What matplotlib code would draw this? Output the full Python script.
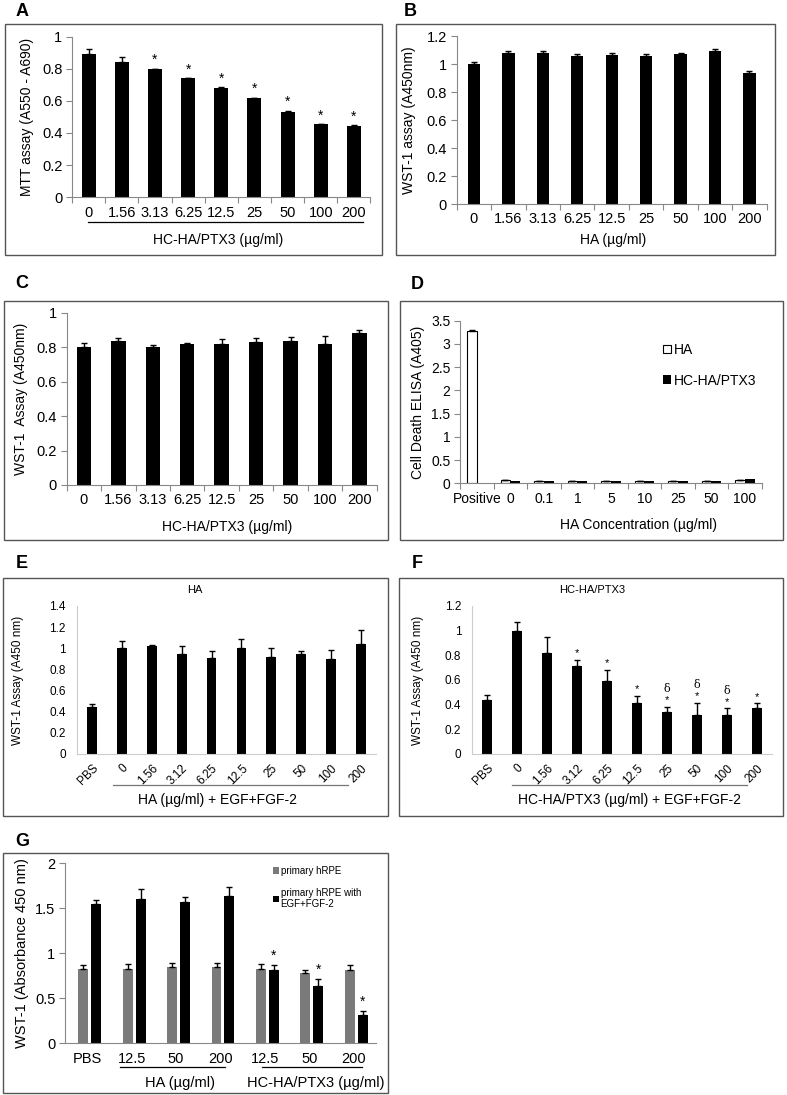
import numpy as np
import matplotlib
matplotlib.use("Agg")
import matplotlib.pyplot as plt
from matplotlib.patches import Rectangle
from matplotlib.lines import Line2D

plt.rcParams['font.family'] = ['Liberation Sans', 'DejaVu Sans']

# ---- data ----
conc_a = ["0", "1.56", "3.13", "6.25", "12.5", "25", "50", "100", "200"]
mtt_a = [0.89, 0.84, 0.80, 0.74, 0.68, 0.62, 0.53, 0.455, 0.445]
mtt_a_err = [0.03, 0.03, 0.0, 0.0, 0.005, 0.0, 0.008, 0.0, 0.003]
star_a = [2, 3, 4, 5, 6, 7, 8]

wst_b = [1.0, 1.08, 1.08, 1.055, 1.065, 1.06, 1.07, 1.095, 0.935]
wst_b_err = [0.012, 0.015, 0.012, 0.015, 0.015, 0.012, 0.012, 0.015, 0.015]

wst_c = [0.80, 0.835, 0.80, 0.82, 0.82, 0.83, 0.835, 0.82, 0.88]
wst_c_err = [0.025, 0.02, 0.015, 0.005, 0.025, 0.022, 0.022, 0.045, 0.022]

conc_d = ["Positive", "0", "0.1", "1", "5", "10", "25", "50", "100"]
elisa_ha = [3.28, 0.07, 0.05, 0.06, 0.06, 0.06, 0.06, 0.06, 0.07]
elisa_ha_err = [0.02, 0.0, 0.0, 0.0, 0.0, 0.0, 0.0, 0.0, 0.0]
elisa_hc = [0.0, 0.05, 0.045, 0.045, 0.04, 0.045, 0.05, 0.06, 0.1]

conc_ef = ["PBS", "0", "1.56", "3.12", "6.25", "12.5", "25", "50", "100", "200"]
wst_e = [0.44, 1.0, 1.02, 0.95, 0.91, 1.0, 0.92, 0.95, 0.895, 1.04]
wst_e_err = [0.035, 0.07, 0.01, 0.075, 0.06, 0.09, 0.085, 0.02, 0.09, 0.135]
wst_f = [0.44, 1.0, 0.82, 0.715, 0.59, 0.415, 0.34, 0.315, 0.32, 0.37]
wst_f_err = [0.04, 0.07, 0.13, 0.05, 0.09, 0.055, 0.045, 0.1, 0.05, 0.04]
star_f = [3, 4, 5, 6, 7, 8, 9]
delta_f = [6, 7, 8]

conc_g = ["PBS", "12.5", "50", "200", "12.5", "50", "200"]
rpe = [0.83, 0.83, 0.845, 0.845, 0.83, 0.785, 0.81]
rpe_err = [0.045, 0.055, 0.05, 0.05, 0.055, 0.025, 0.055]
rpe_gf = [1.545, 1.605, 1.575, 1.635, 0.81, 0.635, 0.315]
rpe_gf_err = [0.05, 0.105, 0.055, 0.1, 0.055, 0.075, 0.045]
star_g = [4, 5, 6]

# ---- figure helpers (pixel coordinates of the 787x1095 canvas) ----
W, H = 787, 1095
fig = plt.figure(figsize=(W / 100, H / 100), dpi=100)
AXC = "#888888"


def fx(x):
    return x / W


def fy(y):
    return 1 - y / H


def box(x0, y0, x1, y1):
    fig.add_artist(Rectangle((fx(x0), fy(y1)), (x1 - x0) / W, (y1 - y0) / H,
                             fill=False, ec="#555555", lw=1.0, transform=fig.transFigure))


def hline(x0, x1, y, color="black"):
    fig.add_artist(Line2D([fx(x0), fx(x1)], [fy(y), fy(y)], color=color, lw=0.9,
                          transform=fig.transFigure))


def ftext(x, y, s, **kw):
    fig.text(fx(x), fy(y), s, ha="center", va="center", **kw)


def make_ax(x0, x1, ytop, yzero):
    ax = fig.add_axes([fx(x0), fy(yzero), (x1 - x0) / W, (yzero - ytop) / H])
    ax._px = (x0, x1)
    return ax


def ylab(ax, text, xcenter, **kw):
    # place the y label so that its centre sits at pixel column xcenter
    x0, x1 = ax._px
    ax.set_ylabel(text, **kw)
    ax.yaxis.label.set_va("center")
    ax.yaxis.set_label_coords((xcenter - x0) / (x1 - x0), 0.5)


def style(ax, labels, ymax, step, fs=10, left=-0.5, ytickfs=None):
    n = len(labels)
    ax.set_xlim(left, n - 0.5)
    ax.set_ylim(0, ymax)
    ax.patch.set_alpha(0)
    for s in ["top", "right"]:
        ax.spines[s].set_visible(False)
    for s in ["left", "bottom"]:
        ax.spines[s].set_color(AXC)
        ax.spines[s].set_linewidth(0.8)
    ticks = np.round(np.arange(0, ymax + step / 2, step), 3)
    ax.set_yticks(ticks)
    ax.set_yticklabels([f"{t:g}" for t in ticks], fontsize=ytickfs or fs)
    ax.set_xticks(range(n))
    ax.set_xticklabels(labels, fontsize=fs)
    ax.set_xticks(np.arange(-0.5, n), minor=True)
    ax.tick_params(axis="x", which="major", length=0, pad=6)
    ax.tick_params(axis="x", which="minor", length=4, color=AXC, width=0.8)
    ax.tick_params(axis="y", length=4, color=AXC, width=0.8, pad=3)


def errs(ax, x, vals, err, capsize=2.5):
    ax.errorbar(x, vals, yerr=[np.zeros(len(err)), err], fmt="none",
                ecolor="black", elinewidth=1, capsize=capsize, capthick=1)


# ---------------- A ----------------
ax = make_ax(72, 370.5, 36.5, 197.3)
x = np.arange(len(conc_a))
ax.bar(x, mtt_a, width=0.42, color="black")
errs(ax, x, mtt_a, mtt_a_err)
style(ax, conc_a, 1.0, 0.2, fs=10.5)
for i in star_a:
    ax.text(i, mtt_a[i] + mtt_a_err[i] + 0.03, "*", ha="center", va="baseline", fontsize=10)
ylab(ax, "MTT assay (A550 - A690)", 27, fontsize=10)
box(5, 24, 382, 255)
hline(88, 363, 222)
ftext(218, 240, "HC-HA/PTX3 (µg/ml)", fontsize=10)
ftext(22, 11, "A", fontsize=13, fontweight="bold")

# ---------------- B ----------------
ax = make_ax(456.7, 766.7, 36, 204)
x = np.arange(len(conc_a))
ax.bar(x, wst_b, width=0.36, color="black")
errs(ax, x, wst_b, wst_b_err)
style(ax, conc_a, 1.2, 0.2, fs=10.5)
ylab(ax, "WST-1 assay (A450nm)", 409, fontsize=10)
box(396, 24, 775, 255)
ftext(613, 240, "HA (µg/ml)", fontsize=10)
ftext(410, 11, "B", fontsize=13, fontweight="bold")

# ---------------- C ----------------
ax = make_ax(66.7, 376.7, 312.7, 485)
x = np.arange(len(conc_a))
ax.bar(x, wst_c, width=0.42, color="black")
errs(ax, x, wst_c, wst_c_err)
style(ax, conc_a, 1.0, 0.2, fs=10.5)
ylab(ax, "WST-1  Assay (A450nm)", 21, fontsize=10)
box(4, 301, 388, 540)
ftext(227, 527, "HC-HA/PTX3 (µg/ml)", fontsize=10)
ftext(22, 283, "C", fontsize=13, fontweight="bold")

# ---------------- D ----------------
ax = make_ax(460, 761.7, 320.7, 483.3)
x = np.arange(len(conc_d))
bw = 0.29
b1 = ax.bar(x - bw / 2, elisa_ha, width=bw, color="white", edgecolor="black", lw=0.8, label="HA")
b2 = ax.bar(x + bw / 2, elisa_hc, width=bw, color="black", label="HC-HA/PTX3")
errs(ax, x - bw / 2, elisa_ha, elisa_ha_err, capsize=2)
style(ax, conc_d, 3.5, 0.5, fs=10)
ylab(ax, "Cell Death ELISA (A405)", 418, fontsize=10)
ax.legend(handles=[b1, b2], loc="upper left", bbox_to_anchor=(fx(656), fy(336)),
          bbox_transform=fig.transFigure, frameon=False, fontsize=10,
          handlelength=0.6, handleheight=0.6, handletextpad=0.2, labelspacing=1.2,
          borderpad=0)
box(400, 301, 783, 540)
ftext(638, 525, "HA Concentration (µg/ml)", fontsize=10)
ftext(417, 285, "D", fontsize=13, fontweight="bold")

NARROW = ["Liberation Sans Narrow", "Liberation Sans"]

# ---------------- E ----------------
ax = make_ax(77, 376, 606, 754)
x = np.arange(len(conc_ef))
ax.bar(x, wst_e, width=0.33, color="black")
errs(ax, x, wst_e, wst_e_err, capsize=2)
style(ax, conc_ef, 1.4, 0.2, fs=8.5)
plt.setp(ax.get_xticklabels(), rotation=45, ha="right", va="top", rotation_mode="anchor")
ax.tick_params(axis="x", which="minor", length=0)
ax.tick_params(axis="y", length=0, pad=8)
ax.spines["left"].set_color("#cccccc")
ax.spines["bottom"].set_color("#cccccc")
ylab(ax, "WST-1 Assay (A450 nm)", 18, fontsize=8.5, family=NARROW)
box(3, 578, 388, 816)
ftext(195, 590, "HA", fontsize=8)
hline(113, 348, 785, color="#777777")
ftext(217, 800, "HA (µg/ml) + EGF+FGF-2", fontsize=10)
ftext(22, 563, "E", fontsize=13, fontweight="bold")

# ---------------- F ----------------
ax = make_ax(472.3, 771.7, 606, 754)
x = np.arange(len(conc_ef))
ax.bar(x, wst_f, width=0.33, color="black")
errs(ax, x, wst_f, wst_f_err, capsize=2)
style(ax, conc_ef, 1.2, 0.2, fs=8.5)
plt.setp(ax.get_xticklabels(), rotation=45, ha="right", va="top", rotation_mode="anchor")
ax.tick_params(axis="x", which="minor", length=0)
ax.tick_params(axis="y", length=0, pad=8)
ax.spines["left"].set_color("#cccccc")
ax.spines["bottom"].set_color("#cccccc")
for i in star_f:
    ax.text(i, wst_f[i] + wst_f_err[i] + 0.03, "*", ha="center", va="baseline", fontsize=8)
for i in delta_f:
    ax.text(i, wst_f[i] + wst_f_err[i] + 0.12, "δ", ha="center", va="baseline", fontsize=8,
            family="DejaVu Serif")
ylab(ax, "WST-1 Assay (A450 nm)", 418, fontsize=8.5, family=NARROW)
box(399, 578, 783, 816)
ftext(592, 590, "HC-HA/PTX3", fontsize=8)
hline(512, 747, 785, color="#777777")
ftext(630, 800, "HC-HA/PTX3 (µg/ml) + EGF+FGF-2", fontsize=10)
ftext(417, 563, "F", fontsize=13, fontweight="bold")

# ---------------- G ----------------
ax = make_ax(65, 376, 863.3, 1043.3)
x = np.arange(len(conc_g))
gw = 0.225
g1 = ax.bar(x - 0.09, rpe, width=gw, color="#7a7a7a", label="primary hRPE")
g2 = ax.bar(x + 0.2, rpe_gf, width=gw, color="black",
            label="primary hRPE with\nEGF+FGF-2")
errs(ax, x - 0.09, rpe, rpe_err, capsize=2.5)
errs(ax, x + 0.2, rpe_gf, rpe_gf_err, capsize=2.5)
style(ax, conc_g, 2.0, 0.5, fs=10.5)
ax.tick_params(axis="x", which="minor", length=0)
for i in star_g:
    ax.text(i + 0.2, rpe_gf[i] + rpe_gf_err[i] + 0.06, "*", ha="center",
            va="baseline", fontsize=10)
ylab(ax, "WST-1 (Absorbance 450 nm)", 22, fontsize=10.5)
ax.legend(handles=[g1, g2], loc="upper left", bbox_to_anchor=(fx(268), fy(861)),
          bbox_transform=fig.transFigure, frameon=False, fontsize=7,
          handlelength=0.6, handleheight=0.6, handletextpad=0.2, labelspacing=1.2,
          borderpad=0)
box(3, 853, 388, 1093)
hline(120, 225, 1067)
hline(262, 362, 1067)
ftext(180, 1083, "HA (µg/ml)", fontsize=10.5)
ftext(316, 1083, "HC-HA/PTX3 (µg/ml)", fontsize=10.5)
ftext(22, 842, "G", fontsize=13, fontweight="bold")

fig.savefig("out.png", dpi=100)
